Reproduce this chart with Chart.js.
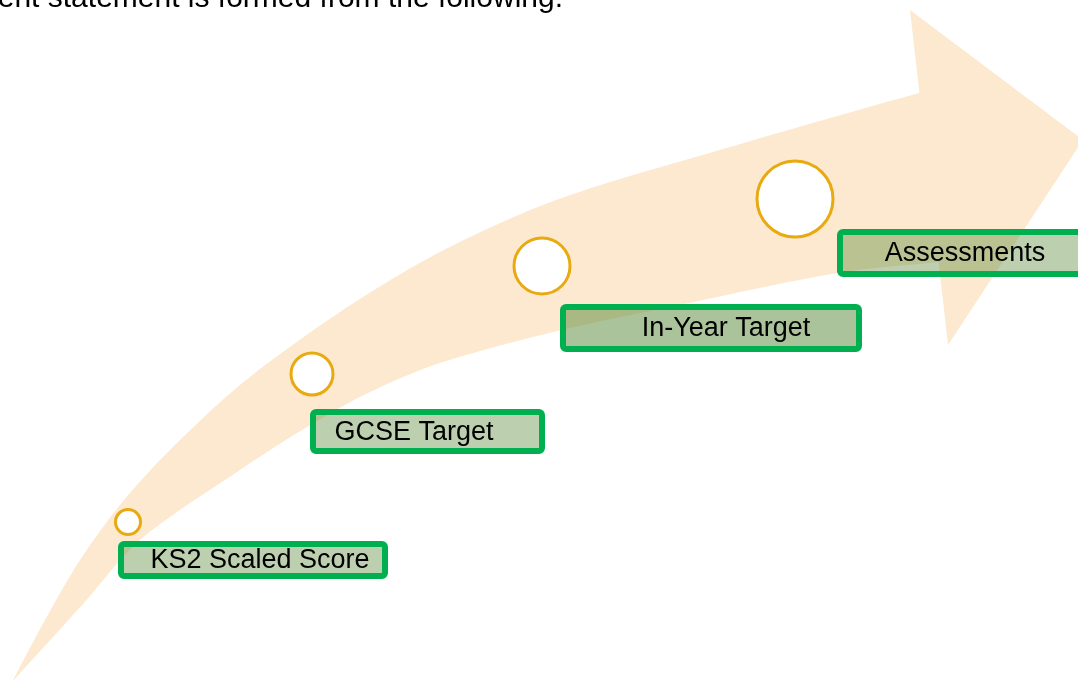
<!DOCTYPE html>
<html>
<head>
<meta charset="utf-8">
<script src="https://cdn.jsdelivr.net/npm/chart.js@4/dist/chart.umd.min.js"></script>
<style>
  html, body { margin: 0; padding: 0; background: #fff; }
  #diagram { display: block; }
</style>
</head>
<body>
<canvas id="diagram" width="1078" height="680"></canvas>
<script>
/* Attainment statement diagram: curved arrow with growing stages. */

// arrow body (tail -> upper edge -> into head -> lower edge -> tail)
const bodyX = [12, 45, 80, 120, 165, 240, 340, 440, 559, 737, 919, 945,
               955, 938, 837, 670, 557, 440, 370, 307, 240, 140, 83, 12];
const bodyY = [682, 620, 560, 505, 455, 385, 312, 252, 199, 145, 93, 87,
               260, 262, 273, 307, 331, 363, 392, 427, 470, 540, 604, 682];
// arrow head (top corner -> tip -> bottom corner)
const headX = [910, 1083, 948, 910];
const headY = [10, 140, 345, 10];

// stages
const stages = ['KS2 Scaled Score', 'GCSE Target', 'In-Year Target', 'Assessments'];
const circleX = [128, 312, 542, 795];
const circleY = [522, 374, 266, 199];
const circleR = [12.5, 21, 28, 38];

// label boxes (outer edges)
const boxLeft   = [118, 310, 560, 837];
const boxRight  = [388, 545, 862, 1092];
const boxTop    = [541, 409, 304, 229];
const boxBottom = [579, 454, 352, 277];
const textX     = [260, 414, 726, 965];
const boxAlpha  = [0.4, 0.4, 0.5, 0.4];

const headerText = 'ent statement is formed from the following.';

const labelBoxes = {
    id: 'labelBoxes',
    afterDatasetsDraw(chart) {
        const c = chart.ctx, xs = chart.scales.x, ys = chart.scales.y;
        c.save();
        // header line, cut off by the top of the page
        c.font = '30px "Liberation Sans", Arial, sans-serif';
        c.fillStyle = '#000';
        c.textAlign = 'right';
        c.textBaseline = 'alphabetic';
        c.fillText(headerText, xs.getPixelForValue(563), ys.getPixelForValue(7));

        stages.forEach((name, i) => {
            const l = xs.getPixelForValue(boxLeft[i]), r = xs.getPixelForValue(boxRight[i]);
            const t = ys.getPixelForValue(boxTop[i]), b = ys.getPixelForValue(boxBottom[i]);
            const bw = 6;
            c.beginPath();
            c.roundRect(l + bw / 2, t + bw / 2, r - l - bw, b - t - bw, 3);
            c.fillStyle = 'rgba(88,135,55,' + boxAlpha[i] + ')';
            c.fill();
            c.lineWidth = bw;
            c.strokeStyle = '#00b050';
            c.stroke();

            c.font = '27px "Liberation Sans", Arial, sans-serif';
            c.fillStyle = '#000';
            c.textAlign = 'center';
            c.textBaseline = 'middle';
            c.fillText(name, xs.getPixelForValue(textX[i]), (t + b) / 2 + 1);
        });
        c.restore();
    }
};

const peach = 'rgb(253,233,207)';
const toPts = (xs, ys) => xs.map((x, i) => ({ x: x, y: ys[i] }));

new Chart(document.getElementById('diagram'), {
    type: 'scatter',
    data: {
        datasets: [
            {
                type: 'bubble',
                data: circleX.map((x, i) => ({ x: x, y: circleY[i], r: circleR[i] })),
                backgroundColor: '#ffffff',
                borderColor: '#e8aa10',
                borderWidth: 3,
                clip: false,
            },
            {
                type: 'line',
                data: toPts(headX, headY),
                showLine: true,
                fill: 'shape',
                backgroundColor: peach,
                borderWidth: 0,
                pointRadius: 0,
                tension: 0,
            },
            {
                type: 'line',
                data: toPts(bodyX, bodyY),
                showLine: true,
                fill: 'shape',
                backgroundColor: peach,
                borderWidth: 0,
                pointRadius: 0,
                tension: 0.3,
            },
        ],
    },
    options: {
        responsive: false,
        animation: false,
        events: [],
        layout: { padding: 0, autoPadding: false },
        plugins: { legend: { display: false }, tooltip: { enabled: false } },
        scales: {
            x: { type: 'linear', min: 0, max: 1078, display: false },
            y: { type: 'linear', min: 0, max: 680, reverse: true, display: false },
        },
    },
    plugins: [labelBoxes],
});
</script>
</body>
</html>
